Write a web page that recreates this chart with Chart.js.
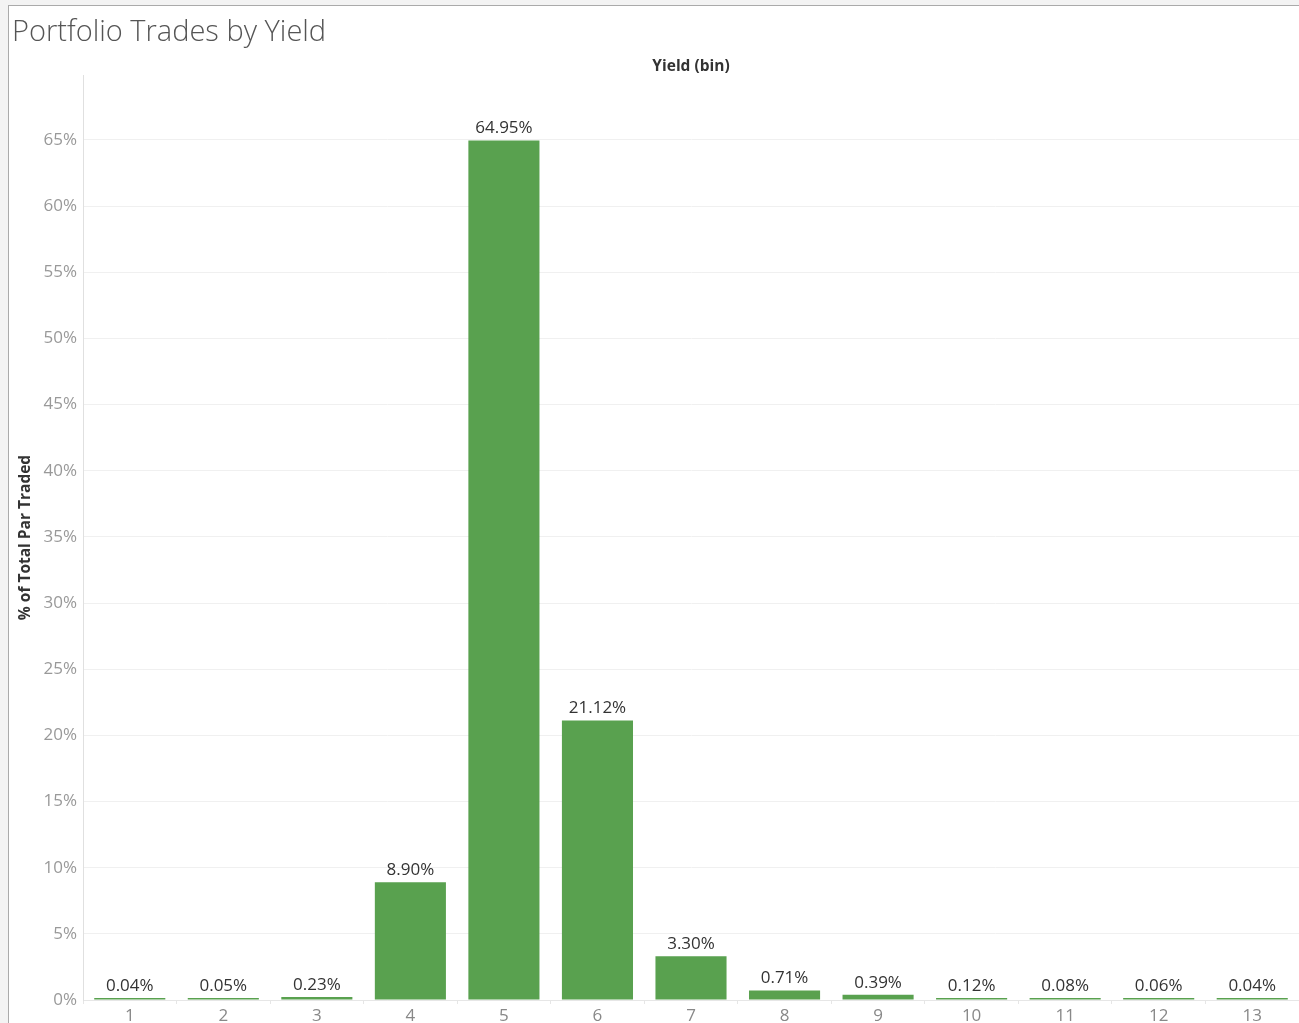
<!DOCTYPE html>
<html>
<head>
<meta charset="utf-8">
<title>Portfolio Trades by Yield</title>
<script src="https://cdn.jsdelivr.net/npm/chart.js@4"></script>
<style>
  html, body { margin: 0; padding: 0; background: #f3f3f3; }
  #frame {
    position: absolute; left: 8px; top: 5px; width: 1291px; height: 1018px;
    background: #fff; border-top: 1px solid #aaa; border-left: 1px solid #aaa;
  }
  #title {
    position: absolute; left: 3px; top: 4px; margin: 0;
    font-family: "Open Sans", sans-serif; font-weight: 300; font-size: 29px;
    color: #555; white-space: nowrap;
  }
  #chartBox { position: absolute; left: 0; top: 0; width: 1290px; height: 1017px; }
</style>
</head>
<body>
<div id="frame">
  <div id="chartBox"><canvas id="yieldChart"></canvas></div>
  <h1 id="title">Portfolio Trades by Yield</h1>
</div>
<script>
// Yield bins and share of total par traded (%)
const yieldBins = ["1", "2", "3", "4", "5", "6", "7", "8", "9", "10", "11", "12", "13"];
const pctTraded = [0.04, 0.05, 0.23, 8.90, 64.95, 21.12, 3.30, 0.71, 0.39, 0.12, 0.08, 0.06, 0.04];
const yTicks = [0, 5, 10, 15, 20, 25, 30, 35, 40, 45, 50, 55, 60, 65];

const fontFamily = "'Open Sans', sans-serif";

// draw the value above each bar
const barLabels = {
  id: "barLabels",
  afterDatasetsDraw(chart) {
    const ctx = chart.ctx;
    const meta = chart.getDatasetMeta(0);
    ctx.save();
    ctx.font = "17px " + fontFamily;
    ctx.fillStyle = "#333";
    ctx.textAlign = "center";
    ctx.textBaseline = "middle";
    meta.data.forEach((bar, i) => {
      ctx.fillText(pctTraded[i].toFixed(2) + "%", bar.x, bar.y - 12);
    });
    ctx.restore();
  },
};

const ctx = document.getElementById("yieldChart").getContext("2d");
new Chart(ctx, {
  type: "bar",
  data: {
    labels: yieldBins,
    datasets: [
      {
        data: pctTraded,
        backgroundColor: "#59a14f",
        barPercentage: 0.76,
        categoryPercentage: 1.0,
        minBarLength: 2,
      },
    ],
  },
  options: {
    responsive: true,
    maintainAspectRatio: false,
    animation: false,
    layout: { padding: { top: 0, right: 0, bottom: 0, left: 0 } },
    plugins: {
      legend: { display: false },
      tooltip: { enabled: false },
    },
    scales: {
      x: {
        position: "bottom",
        offset: true,
        grid: {
          display: true,
          offset: true,
          drawOnChartArea: false,
          drawTicks: true,
          tickLength: 4,
          color: "#e6e6e6",
        },
        border: { display: true, color: "#e6e6e6" },
        ticks: {
          color: "#888",
          font: { family: fontFamily, size: 17 },
          padding: 2,
          maxRotation: 0,
        },
        afterFit(scale) {
          scale.height = 23;
        },
      },
      xTop: {
        type: "category",
        position: "top",
        labels: yieldBins,
        offset: true,
        grid: { display: false, drawTicks: false },
        border: { display: false },
        ticks: { display: false },
        title: {
          display: true,
          text: "Yield (bin)",
          color: "#333",
          font: { family: fontFamily, size: 15.5, weight: "bold" },
          padding: { top: 51, bottom: 0 },
        },
        afterFit(scale) {
          scale.height = 69;
        },
      },
      y: {
        min: 0,
        max: 69.9,
        afterBuildTicks(scale) {
          scale.ticks = yTicks.map((v) => ({ value: v }));
        },
        afterFit(scale) {
          scale.width = 74;
        },
        grid: {
          color: "#f0f0f0",
          drawTicks: false,
        },
        border: { display: true, color: "#e0e0e0" },
        ticks: {
          color: "#999",
          font: { family: fontFamily, size: 17 },
          padding: 6,
          callback: (v) => v + "%",
        },
        title: {
          display: true,
          text: "% of Total Par Traded",
          color: "#333",
          font: { family: fontFamily, size: 15.5, weight: "bold" },
          padding: { top: 7, bottom: 0 },
        },
      },
    },
  },
  plugins: [barLabels],
});
</script>
</body>
</html>
